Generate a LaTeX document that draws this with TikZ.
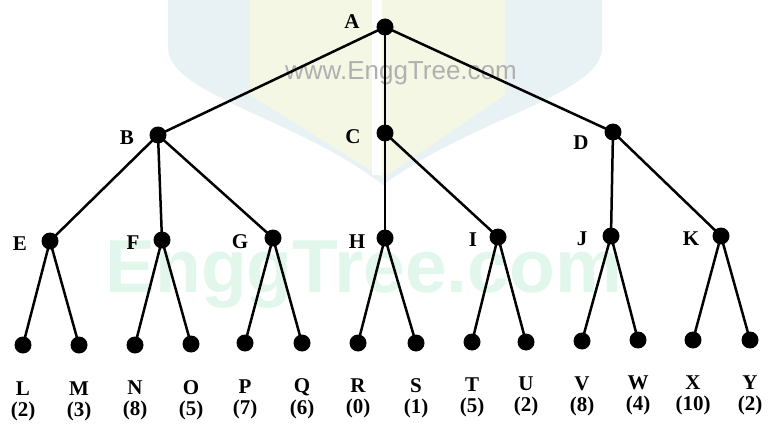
\documentclass[tikz,border=0pt]{standalone}
\usepackage{fontspec}
\setmainfont{Liberation Serif}
\newfontfamily\wmfont{Liberation Sans}
\definecolor{wmblue}{HTML}{E8F1F4}
\definecolor{wmyellow}{HTML}{F4F7E4}
\definecolor{wmgreen}{HTML}{E2F7EC}
\definecolor{wmgray}{HTML}{B0B0B0}
\begin{document}
\begin{tikzpicture}[x=1pt,y=-1pt,
  dot/.style={circle,fill=black,inner sep=0pt,minimum size=17pt},
  edge/.style={line width=2.5pt,black},
  lab/.style={font=\fontsize{21}{21}\selectfont\bfseries,inner sep=0pt},
  wmsmall/.style={font=\wmfont\fontsize{26}{26}\selectfont,text=wmgray,inner sep=0pt},
  wmbig/.style={font=\wmfont\bfseries\fontsize{75}{75}\selectfont,text=wmgreen,inner sep=0pt}]
\useasboundingbox (0,0) rectangle (768,433);
\fill[white] (0,0) rectangle (768,433);
% faint background logo
\fill[wmblue] (168,0) -- (168,50) .. controls (172,95) and (300,120) .. (383,185)
  .. controls (470,120) and (598,95) .. (602,50) -- (602,0) -- cycle;
\fill[wmyellow] (250,0) -- (250,95) -- (383,178) -- (505,95) -- (505,0) -- cycle;
\fill[white] (372,0) rectangle (382,175);
\node[wmbig,anchor=base west] (wmb) at (105,292) {EnggTree.com};
\node[wmsmall,anchor=base] (wms) at (401,80) {www.EnggTree.com};
% tree nodes
\node[dot] (A) at (385,27) {};
\node[dot] (B) at (158,135) {};
\node[dot] (C) at (385,133) {};
\node[dot] (D) at (613,132) {};
\node[dot] (E) at (50,241) {};
\node[dot] (F) at (162,240) {};
\node[dot] (G) at (273,238) {};
\node[dot] (H) at (385,238) {};
\node[dot] (I) at (498,237) {};
\node[dot] (J) at (611,236) {};
\node[dot] (K) at (721,236) {};
\node[dot] (L) at (23,345) {};
\node[dot] (M) at (79,345) {};
\node[dot] (N) at (135,345) {};
\node[dot] (O) at (191,344) {};
\node[dot] (P) at (245,343) {};
\node[dot] (Q) at (302,343) {};
\node[dot] (R) at (358,343) {};
\node[dot] (S) at (416,343) {};
\node[dot] (T) at (472,342) {};
\node[dot] (U) at (526,342) {};
\node[dot] (V) at (582,341) {};
\node[dot] (W) at (638,340) {};
\node[dot] (X) at (693,340) {};
\node[dot] (Y) at (750,340) {};
% edges
\foreach \p/\c in {A/B,A/C,A/D,B/E,B/F,B/G,C/H,C/I,D/J,D/K,
  E/L,E/M,F/N,F/O,G/P,G/Q,H/R,H/S,I/T,I/U,J/V,J/W,K/X,K/Y}
  \draw[edge] (\p.center) -- (\c.center);
% internal labels
\node[lab] (lA) at (352,22) {A};
\node[lab] (lB) at (127,138) {B};
\node[lab] (lC) at (353,137) {C};
\node[lab] (lD) at (581,143) {D};
\node[lab] (lE) at (20,244) {E};
\node[lab] (lF) at (133,243) {F};
\node[lab] (lG) at (240,242) {G};
\node[lab] (lH) at (357,242) {H};
\node[lab] (lI) at (473,240) {I};
\node[lab] (lJ) at (582,239) {J};
\node[lab] (lK) at (691,239) {K};
% leaf labels
\foreach \n/\v/\x/\y in {L/2/23/389,M/3/79/389,N/8/135/388,O/5/191/388,
  P/7/245/387,Q/6/302/387,R/0/358/386,S/1/416/386,T/5/472/385,U/2/526/384,
  V/8/582/384,W/4/638/383,X/10/693/383,Y/2/750/383}{
  \node[lab] (n\n) at (\x,\y) {\n};
  \node[lab] (v\n) at (\x,\y+22) {(\v)};
}
\end{tikzpicture}
\end{document}
